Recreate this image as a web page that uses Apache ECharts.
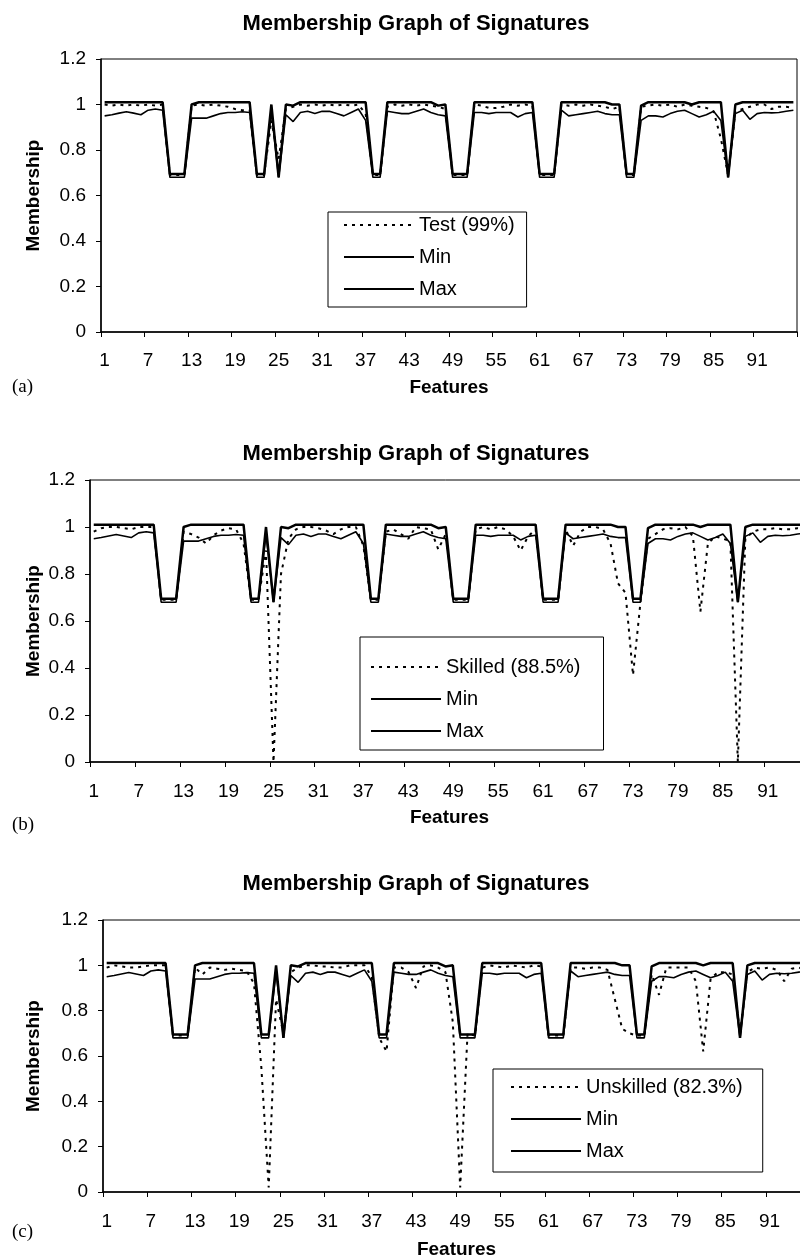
<!DOCTYPE html>
<html><head><meta charset="utf-8">
<script src="https://cdn.jsdelivr.net/npm/echarts/dist/echarts.min.js"></script>
<style>html,body{margin:0;padding:0;background:#fff}#c{width:800px;height:1260px}</style>
</head><body><div id="c"></div>
<script>
// ---------- data ----------
const categories = [];
for (let i = 1; i <= 96; i++) categories.push(String(i));

const yMin = 0, yMax = 1.2, yStep = 0.2;
const chartTitle = 'Membership Graph of Signatures';
const xName = 'Features';
const yName = 'Membership';
const panelTags = ['(a)', '(b)', '(c)'];

const maxValues = [
  1.01,1.01,1.01,1.01,1.01,1.01,1.01,1.01,1.01,
  0.695,0.695,0.695,
  1.0,1.01,1.01,1.01,1.01,1.01,1.01,1.01,1.01,
  0.695,0.695,
  1.0,0.68,
  1.0,0.995,1.01,1.01,1.01,1.01,1.01,1.01,1.01,1.01,1.01,1.01,
  0.695,0.695,
  1.01,1.01,1.01,1.01,1.01,1.01,1.01,0.995,1.0,
  0.695,0.695,0.695,
  1.01,1.01,1.01,1.01,1.01,1.01,1.01,1.01,1.01,
  0.695,0.695,0.695,
  1.01,1.01,1.01,1.01,1.01,1.01,1.01,1.0,1.0,
  0.695,0.695,
  0.995,1.01,1.01,1.01,1.01,1.01,1.01,1.0,1.01,1.01,1.01,1.01,
  0.68,
  1.0,1.01,1.01,1.01,1.01,1.01,1.01,1.01,1.01
];

const minValues = [
  0.95,0.955,0.962,0.968,0.962,0.955,0.975,0.98,0.975,
  0.68,0.68,0.68,
  0.94,0.94,0.94,0.95,0.96,0.965,0.965,0.968,0.965,
  0.68,0.68,
  0.97,0.68,
  0.955,0.925,0.965,0.97,0.96,0.97,0.97,0.96,0.95,0.965,0.98,0.93,
  0.68,0.68,
  0.97,0.965,0.96,0.96,0.97,0.98,0.965,0.955,0.95,
  0.68,0.68,0.68,
  0.965,0.965,0.96,0.965,0.965,0.965,0.945,0.96,0.965,
  0.68,0.68,0.68,
  0.975,0.95,0.955,0.96,0.965,0.97,0.96,0.955,0.955,
  0.68,0.68,
  0.93,0.95,0.95,0.945,0.96,0.97,0.975,0.96,0.945,0.955,0.97,0.93,
  0.68,
  0.96,0.975,0.935,0.96,0.965,0.963,0.965,0.97,0.975
];

const testValues = [
  1.0,0.995,1.0,0.995,1.0,0.995,1.0,0.995,1.0,
  0.69,0.69,0.69,
  0.995,1.0,0.995,1.0,0.995,0.99,0.98,0.975,0.975,
  0.69,0.69,
  0.93,0.76,
  0.98,0.99,1.0,0.995,1.0,0.995,1.0,0.995,1.0,0.995,1.0,0.96,
  0.69,0.69,
  0.99,1.0,0.995,1.0,0.995,1.0,0.995,0.99,0.98,
  0.69,0.69,0.69,
  1.0,0.995,0.985,0.985,0.99,1.0,0.995,1.0,0.995,
  0.69,0.69,0.69,
  1.0,0.995,1.0,0.995,1.0,0.995,0.99,0.98,0.99,
  0.69,0.69,
  0.99,0.995,1.0,0.995,1.0,0.99,1.0,0.995,0.99,0.985,0.97,0.85,
  0.69,
  0.97,0.98,0.99,1.0,1.0,0.98,0.99,0.99,0.985
];

const skilledValues = [
  0.98,0.995,1.0,1.0,0.995,0.99,1.0,1.0,1.0,
  0.69,0.69,0.69,
  0.98,0.97,0.955,0.93,0.965,0.985,0.995,0.99,0.93,
  0.69,0.69,
  0.9,0.0,
  0.8,0.95,0.99,1.0,1.0,0.995,0.985,0.97,0.99,1.0,1.0,0.92,
  0.69,0.69,
  0.98,0.99,0.97,0.95,1.0,0.995,0.99,0.905,0.97,
  0.69,0.69,0.69,
  0.99,1.0,0.99,1.0,0.99,0.96,0.9,0.96,0.99,
  0.69,0.69,0.69,
  0.99,0.92,0.98,1.0,1.0,0.99,0.93,0.76,0.72,
  0.37,0.68,
  0.95,0.97,0.99,0.995,0.99,1.0,0.96,0.64,0.93,0.96,0.95,0.94,
  0.0,
  0.95,0.98,0.99,0.99,0.995,0.99,0.99,0.995,0.99
];

const unskilledValues = [
  0.99,1.0,0.995,0.99,0.99,0.995,1.0,1.0,1.0,
  0.69,0.69,0.69,
  0.99,0.96,0.99,0.985,0.98,0.985,0.98,0.975,0.92,
  0.55,0.02,
  0.85,0.7,
  0.97,0.99,1.0,1.0,0.995,0.995,0.99,0.99,1.0,1.0,1.0,0.95,
  0.68,0.62,
  0.99,0.99,0.97,0.9,0.995,1.0,0.99,0.97,0.75,
  0.02,0.7,0.69,
  0.99,1.0,0.995,0.99,1.0,0.995,0.99,1.0,0.995,
  0.69,0.69,0.69,
  0.99,0.99,0.985,0.99,0.99,0.98,0.85,0.72,0.7,
  0.69,0.69,
  0.96,0.87,0.99,0.99,0.99,0.99,0.93,0.62,0.94,0.97,0.97,0.96,
  0.7,
  0.97,0.99,0.985,0.99,0.98,0.93,0.985,0.99,0.98
];

const panelSeriesNames = ['Test (99%)', 'Skilled (88.5%)', 'Unskilled (82.3%)'];
const panelSeriesValues = [testValues, skilledValues, unskilledValues];

// ---------- layout ----------
const FONT = "'Liberation Sans', Arial, Helvetica, sans-serif";
const layouts = [
  { grid: {left: 101, top: 59, width: 696, height: 273}, titleTop: 8, yGap: 58, xGap: 46, labelMargin: 19,
    legend: {left: 328, top: 212, padding: [3, 12, 8, 15]}, tagTop: 378 },
  { grid: {left: 90, top: 480, width: 719, height: 282}, titleTop: 438, yGap: 47, xGap: 46, labelMargin: 20,
    legend: {left: 360, top: 637, padding: [20, 23, 9, 10]}, tagTop: 816 },
  { grid: {left: 103, top: 920, width: 707, height: 272}, titleTop: 868, yGap: 60, xGap: 48, labelMargin: 20,
    legend: {left: 493, top: 1069, padding: [8, 20, 11, 17]}, tagTop: 1223 }
];

const option = {
  backgroundColor: '#fff',
  animation: false,
  title: [], grid: [], xAxis: [], yAxis: [], legend: [], series: [], graphic: []
};

layouts.forEach((L, k) => {
  option.title.push({
    text: chartTitle, left: 411, top: L.titleTop, textAlign: 'center',
    textStyle: {fontFamily: FONT, fontSize: 22, fontWeight: 'bold', color: '#000'}
  });
  option.grid.push(Object.assign({
    show: true, borderColor: '#000', borderWidth: 1, backgroundColor: 'transparent',
    containLabel: false, outerBoundsMode: 'none'
  }, L.grid));
  option.xAxis.push({
    type: 'category', gridIndex: k, data: categories, boundaryGap: true,
    name: xName, nameLocation: 'middle', nameGap: L.xGap, nameMoveOverlap: false,
    nameTextStyle: {fontFamily: FONT, fontSize: 19, fontWeight: 'bold', color: '#000'},
    axisLine: {show: true, onZero: false, lineStyle: {color: '#000', width: 1.5}},
    axisTick: {show: true, interval: 5, length: 5, alignWithLabel: false, lineStyle: {color: '#000', width: 1}},
    axisLabel: {interval: 5, margin: L.labelMargin, fontFamily: FONT, fontSize: 19, color: '#000', hideOverlap: false},
    splitLine: {show: false}
  });
  option.yAxis.push({
    type: 'value', gridIndex: k, min: yMin, max: yMax, interval: yStep,
    name: yName, nameLocation: 'middle', nameGap: L.yGap, nameMoveOverlap: false,
    nameTextStyle: {fontFamily: FONT, fontSize: 19, fontWeight: 'bold', color: '#000'},
    axisLine: {show: true, lineStyle: {color: '#000', width: 1.5}},
    axisTick: {show: true, length: 5, lineStyle: {color: '#000', width: 1}},
    axisLabel: {margin: 15, fontFamily: FONT, fontSize: 19, color: '#000'},
    splitLine: {show: false}
  });
  option.legend.push({
    orient: 'vertical', left: L.legend.left, top: L.legend.top, padding: L.legend.padding,
    itemGap: 12, itemWidth: 70, itemHeight: 20, selectedMode: false,
    borderColor: '#000', borderWidth: 1, backgroundColor: '#fff',
    itemStyle: {opacity: 0},
    textStyle: {fontFamily: FONT, fontSize: 20, color: '#000'},
    data: [panelSeriesNames[k], 'Min', 'Max']
  });
  option.series.push({
    type: 'line', name: panelSeriesNames[k], xAxisIndex: k, yAxisIndex: k,
    data: panelSeriesValues[k], symbol: 'none', showSymbol: false, z: 2,
    lineStyle: {color: '#000', width: 2, type: [3, 5]}, itemStyle: {color: '#000'},
    emphasis: {disabled: true}
  });
  option.series.push({
    type: 'line', name: 'Min', xAxisIndex: k, yAxisIndex: k,
    data: minValues, symbol: 'none', showSymbol: false, z: 3,
    lineStyle: {color: '#000', width: 1.6}, itemStyle: {color: '#000'},
    emphasis: {disabled: true}
  });
  option.series.push({
    type: 'line', name: 'Max', xAxisIndex: k, yAxisIndex: k,
    data: maxValues, symbol: 'none', showSymbol: false, z: 4,
    lineStyle: {color: '#000', width: 2.5}, itemStyle: {color: '#000'},
    emphasis: {disabled: true}
  });
  option.graphic.push({
    type: 'text', left: 12, top: L.tagTop,
    style: {text: panelTags[k], fontFamily: "'Liberation Serif', 'Times New Roman', serif", fontSize: 19, fill: '#000'}
  });
});

const chart = echarts.init(document.getElementById('c'), null, {renderer: 'canvas'});
chart.setOption(option);
</script>
</body></html>
